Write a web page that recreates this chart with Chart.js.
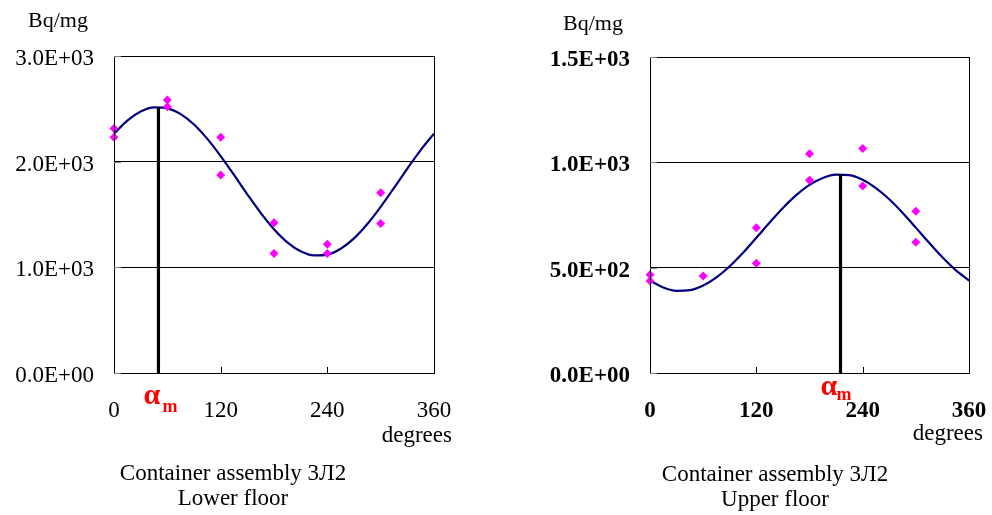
<!DOCTYPE html>
<html>
<head>
<meta charset="utf-8">
<script src="https://cdn.jsdelivr.net/npm/chart.js@4.4.1/dist/chart.umd.min.js"></script>
<style>
  html, body { margin:0; padding:0; background:#fff; }
  #wrap { position:relative; width:992px; height:515px; overflow:hidden; background:#fff; }
  canvas { position:absolute; top:0; }
  .txt { position:absolute; font-family:"Liberation Serif","Times New Roman",serif; color:#000; white-space:nowrap; }
</style>
</head>
<body>
<div id="wrap">
  <canvas id="cL" width="496" height="515" style="left:0"></canvas>
  <canvas id="cR" width="540" height="515" style="left:496px"></canvas>
  <div class="txt" style="left:28px; top:9px; font-size:22px; line-height:22px;">Bq/mg</div>
  <div class="txt" style="left:563px; top:12px; font-size:22px; line-height:22px;">Bq/mg</div>
  <div class="txt" style="right:540px; top:423px; font-size:23px; line-height:23px; text-align:right;">degrees</div>
  <div class="txt" style="right:9px; top:421px; font-size:23px; line-height:23px; text-align:right;">degrees</div>
  <div class="txt" style="left:83px; width:300px; top:460px; font-size:23px; line-height:25px; text-align:center;">Container assembly 3Л2<br>Lower floor</div>
  <div class="txt" style="left:625px; width:300px; top:461px; font-size:23px; line-height:25px; text-align:center;">Container assembly 3Л2<br>Upper floor</div>
</div>
<script>
// ---- data ----
const xTicks = [0, 120, 240, 360];
const curveDeg = [0,15,30,45,60,75,90,105,120,135,150,165,180,195,210,225,240,255,270,285,300,315,330,345,360];

// Lower floor
const lowerCurve = [2265,2389,2474,2513,2505,2450,2352,2216,2053,1874,1691,1516,1361,1237,1152,1113,1121,1176,1274,1410,1573,1752,1935,2110,2265];
const lowerPtsDeg = [0,0,60,60,120,120,180,180,240,240,300,300];
const lowerPtsVal = [2315,2230,2583,2520,2230,1873,1422,1132,1218,1132,1706,1416];
const lowerAlphaDeg = 50;
const lowerAlphaPeak = 2516;
const lowerYTicks = [0, 1000, 2000, 3000];

// Upper floor
const upperCurve = [439,406,390,393,415,454,507,571,642,714,783,844,893,926,942,939,917,878,825,761,690,618,549,488,439];
const upperPtsDeg = [0,0,60,120,120,180,180,240,240,300,300];
const upperPtsVal = [466,437,461,689,521,1041,915,1066,888,768,621];
const upperAlphaDeg = 215;
const upperAlphaPeak = 943;
const upperYTicks = [0, 500, 1000, 1500];

// ---- helpers ----
function fmtE(v){
  if (v === 0) return '0.0E+00';
  const e = Math.floor(Math.log10(v) + 1e-9);
  const m = v / Math.pow(10, e);
  return m.toFixed(1) + 'E+' + String(e).padStart(2, '0');
}
const FONT = '"Liberation Serif","Times New Roman",serif';

const framePlugin = {
  id: 'frameTicks',
  afterDatasetsDraw(chart){
    const ctx = chart.ctx, a = chart.chartArea;
    const xs = chart.scales.x, ys = chart.scales.y;
    ctx.save();
    ctx.lineWidth = 1;
    ctx.strokeStyle = '#000';
    ctx.strokeRect(Math.round(a.left)+0.5, Math.round(a.top)+0.5, Math.round(a.right-a.left), Math.round(a.bottom-a.top));
    xs.ticks.forEach(t => {
      const px = Math.round(xs.getPixelForValue(t.value)) + 0.5;
      ctx.beginPath(); ctx.moveTo(px, a.bottom); ctx.lineTo(px, a.bottom - 6); ctx.stroke();
    });
    ctx.strokeStyle = '#808080';
    ys.ticks.forEach(t => {
      const py = Math.round(ys.getPixelForValue(t.value)) + 0.5;
      ctx.beginPath(); ctx.moveTo(a.left, py); ctx.lineTo(a.left + 7, py); ctx.stroke();
    });
    ctx.restore();
  },
  afterDraw(chart){
    const o = chart.options.plugins.alphaLabel;
    if (!o) return;
    const ctx = chart.ctx;
    const px = chart.scales.x.getPixelForValue(o.value);
    ctx.save();
    ctx.fillStyle = '#ff0000';
    ctx.textBaseline = 'alphabetic';
    ctx.textAlign = 'left';
    ctx.font = 'bold 30px ' + FONT;
    ctx.fillText('α', px + o.ax, o.ay);
    ctx.font = 'bold 18px ' + FONT;
    ctx.fillText('m', px + o.mx, o.my);
    ctx.restore();
  }
};

function makeChart(id, cfg){
  const bold = cfg.bold ? 'bold' : 'normal';
  return new Chart(document.getElementById(id), {
    type: 'scatter',
    data: {
      datasets: [
        {
          data: cfg.ptsDeg.map((d,i) => ({x:d, y:cfg.ptsVal[i]})),
          showLine: false,
          pointStyle: 'rectRot',
          pointRadius: 4.5,
          pointBackgroundColor: '#ff00ff',
          pointBorderColor: '#ff00ff',
          pointBorderWidth: 0,
          clip: false
        },
        {
          data: [{x:cfg.alphaDeg, y:0}, {x:cfg.alphaDeg, y:cfg.alphaPeak}],
          showLine: true,
          borderColor: '#000',
          borderWidth: 3.2,
          pointRadius: 0,
          clip: false
        },
        {
          data: curveDeg.map((d,i) => ({x:d, y:cfg.curve[i]})),
          showLine: true,
          borderColor: '#000080',
          borderWidth: 2.2,
          pointRadius: 0,
          tension: 0.4,
          cubicInterpolationMode: 'monotone',
          clip: false
        }
      ]
    },
    options: {
      responsive: false,
      devicePixelRatio: 1,
      animation: false,
      events: [],
      layout: { padding: cfg.padding },
      plugins: {
        legend: { display: false },
        tooltip: { enabled: false },
        alphaLabel: cfg.alphaLabel
      },
      scales: {
        x: {
          type: 'linear', min: 0, max: 360,
          afterBuildTicks: s => { s.ticks = xTicks.map(v => ({value:v})); },
          ticks: { font: { family: FONT, size: 23, weight: bold }, color: '#000', padding: 24, maxRotation: 0, autoSkip: false },
          grid: { display: false, drawTicks: false },
          border: { display: false },
          afterFit: s => { s.height = 60; }
        },
        y: {
          min: cfg.yTicks[0], max: cfg.yTicks[cfg.yTicks.length-1],
          afterBuildTicks: s => { s.ticks = cfg.yTicks.map(v => ({value:v})); },
          ticks: { font: { family: FONT, size: 23, weight: bold }, color: '#000', padding: 20, labelOffset: 3, callback: v => fmtE(v) },
          grid: { color: '#000', lineWidth: 1, drawTicks: false },
          border: { display: false },
          afterFit: s => { s.width = cfg.yWidth; }
        }
      }
    },
    plugins: [framePlugin]
  });
}

makeChart('cL', {
  curve: lowerCurve, ptsDeg: lowerPtsDeg, ptsVal: lowerPtsVal,
  alphaDeg: lowerAlphaDeg, alphaPeak: lowerAlphaPeak, yTicks: lowerYTicks,
  bold: false, yWidth: 114,
  padding: { top: 56, right: 62, bottom: 82, left: 0 },
  alphaLabel: { value: lowerAlphaDeg, ax: -15, ay: 404, mx: 4, my: 412 }
});
makeChart('cR', {
  curve: upperCurve, ptsDeg: upperPtsDeg, ptsVal: upperPtsVal,
  alphaDeg: upperAlphaDeg, alphaPeak: upperAlphaPeak, yTicks: upperYTicks,
  bold: true, yWidth: 154,
  padding: { top: 57, right: 67, bottom: 82, left: 0 },
  alphaLabel: { value: upperAlphaDeg, ax: -20, ay: 395, mx: -4, my: 400 }
});
</script>
</body>
</html>
